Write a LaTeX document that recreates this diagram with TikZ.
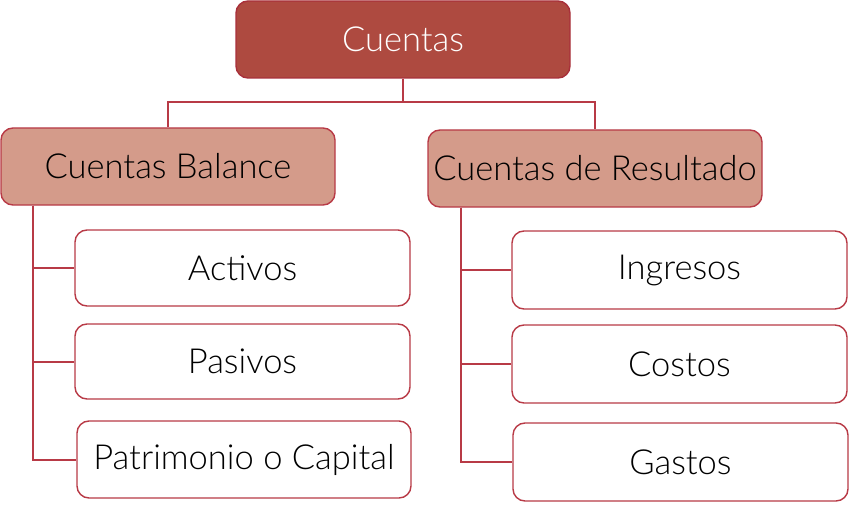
\documentclass[tikz,border=0pt]{standalone}
\usepackage{fontspec}
\setmainfont{Lato Light}
\definecolor{darkfill}{HTML}{AE4A40}
\definecolor{darkline}{HTML}{A8303A}
\definecolor{midfill}{HTML}{D49B8A}
\definecolor{redline}{HTML}{B83A46}
\begin{document}
\begin{tikzpicture}[x=1pt,y=-1pt,
  box/.style={draw=redline, line width=1.4pt, rounded corners=12pt, inner sep=0pt,
    minimum width=334pt, minimum height=77pt, font=\fontsize{34.5}{40}\selectfont},
  topbox/.style={box, fill=darkfill, draw=darkline, text=white},
  midbox/.style={box, fill=midfill},
  leaf/.style={box, fill=white},
  conn/.style={draw=redline, line width=2pt}]
\useasboundingbox (0,0) rectangle (856,505);
\node[topbox] (top) at (403,39.5) {Cuentas};
\node[midbox] (cb) at (168,166.5) {Cuentas Balance};
\node[midbox] (cr) at (595,168.5) {Cuentas de Resultado};
\node[leaf, minimum width=335pt, minimum height=76pt] (act) at (242.5,268) {Activos};
\node[leaf, minimum width=335pt, minimum height=75pt] (pas) at (242.5,361.5) {Pasivos};
\node[leaf] (pat) at (244,459.5) {Patrimonio o Capital};
\node[leaf, minimum width=335pt, minimum height=78pt] (ing) at (679.5,270) {Ingresos};
\node[leaf, minimum width=335pt, minimum height=78pt] (cos) at (679.5,364) {Costos};
\node[leaf, minimum width=335pt, minimum height=78pt] (gas) at (680.5,462) {Gastos};
\coordinate (j) at (403,102);
\coordinate (lt) at ([xshift=33pt]cb.south west);
\coordinate (rt) at ([xshift=34pt]cr.south west);
\draw[conn] (top.south) -- (j);
\draw[conn] (cb.north) |- (j) -| (cr.north);
\draw[conn] (lt) |- (act.west);
\draw[conn] (lt) |- (pas.west);
\draw[conn] (lt) |- (pat.west);
\draw[conn] (rt) |- (ing.west);
\draw[conn] (rt) |- (cos.west);
\draw[conn] (rt) |- (gas.west);
\end{tikzpicture}
\end{document}
